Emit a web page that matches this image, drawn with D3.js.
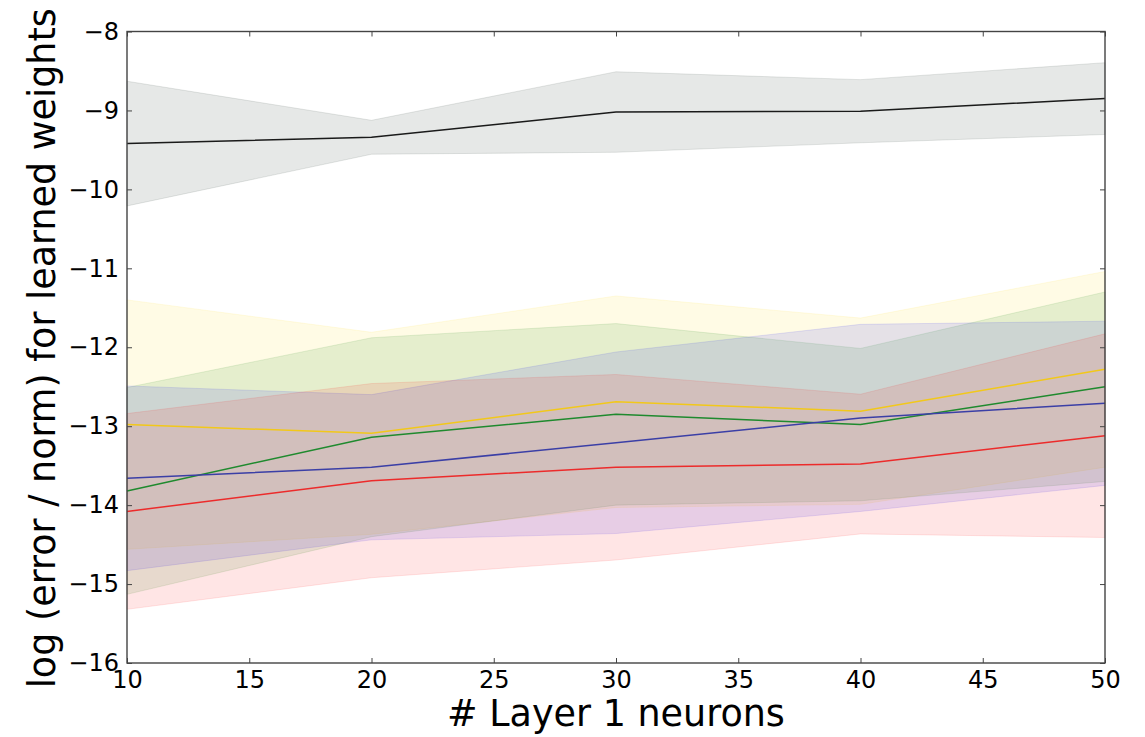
<!DOCTYPE html>
<html>
<head>
<meta charset="utf-8">
<script src="https://cdn.jsdelivr.net/npm/d3@7"></script>
<style>
  body { margin: 0; background: #fff; }
  svg { display: block; font-family: "DejaVu Sans", sans-serif; }
</style>
</head>
<body>
<svg id="chart" width="1145" height="737"></svg>
<script>
// layer-1 neuron counts
var neurons = [10, 20, 30, 40, 50];

// mean and spread (band half-width) of log(error / norm) per series
var blackMean  = [-9.42, -9.34, -9.02, -9.01, -8.85];
var blackStd   = [0.79, 0.215, 0.51, 0.40, 0.455];
var yellowMean = [-12.98, -13.09, -12.69, -12.81, -12.28];
var yellowStd  = [1.58, 1.28, 1.34, 1.18, 1.24];
var greenMean  = [-13.82, -13.14, -12.85, -12.98, -12.50];
var greenStd   = [1.31, 1.26, 1.15, 0.965, 1.20];
var blueMean   = [-13.66, -13.52, -13.21, -12.895, -12.71];
var blueStd    = [1.17, 0.92, 1.15, 1.185, 1.04];
var redMean    = [-14.08, -13.69, -13.52, -13.48, -13.12];
var redStd     = [1.24, 1.23, 1.175, 0.885, 1.29];

var xTicks = [10, 15, 20, 25, 30, 35, 40, 45, 50];
var yTicks = [-16, -15, -14, -13, -12, -11, -10, -9, -8];

var series = [
    {mean: blackMean,  std: blackStd,  fill: "#0a1a10", line: "#1a1a1a"},
    {mean: yellowMean, std: yellowStd, fill: "#ffd700", line: "#f2c81a"},
    {mean: greenMean,  std: greenStd,  fill: "#008000", line: "#1f8a2e"},
    {mean: blueMean,   std: blueStd,   fill: "#0000ff", line: "#3b3fa6"},
    {mean: redMean,    std: redStd,    fill: "#ff0000", line: "#ec2b2b"}
];

var margin = {left: 127, top: 31.5, right: 40, bottom: 74};
var width = 1145 - margin.left - margin.right;
var height = 737 - margin.top - margin.bottom;

var svg = d3.select("#chart");
var g = svg.append("g").attr("transform", "translate(" + margin.left + "," + margin.top + ")");

var x = d3.scaleLinear().domain([10, 50]).range([0, width]);
var y = d3.scaleLinear().domain([-16, -8]).range([height, 0]);

// bands first
var area = d3.area()
    .x(function (d) { return x(d.n); })
    .y0(function (d) { return y(d.m - d.s); })
    .y1(function (d) { return y(d.m + d.s); });

var line = d3.line()
    .x(function (d) { return x(d.n); })
    .y(function (d) { return y(d.m); });

series.forEach(function (s) {
    s.points = neurons.map(function (n, i) {
        return {n: n, m: s.mean[i], s: s.std[i]};
    });
    g.append("path")
        .datum(s.points)
        .attr("d", area)
        .attr("fill", s.fill)
        .attr("fill-opacity", 0.1)
        .attr("stroke", s.fill)
        .attr("stroke-opacity", 0.1)
        .attr("stroke-width", 1);
});

series.forEach(function (s) {
    g.append("path")
        .datum(s.points)
        .attr("d", line)
        .attr("fill", "none")
        .attr("stroke", s.line)
        .attr("stroke-width", 1.5);
});

// axes, matplotlib classic style: ticks inside on all four sides
var fmt = function (d) { return d < 0 ? "\u2212" + Math.abs(d) : String(d); };
var tickLen = 5;

var xBottom = g.append("g").attr("transform", "translate(0," + height + ")")
    .call(d3.axisBottom(x).tickValues(xTicks).tickSizeInner(-tickLen).tickSizeOuter(0).tickPadding(8).tickFormat(fmt));
var xTop = g.append("g")
    .call(d3.axisTop(x).tickValues(xTicks).tickSizeInner(-tickLen).tickSizeOuter(0).tickFormat(""));
var yLeft = g.append("g")
    .call(d3.axisLeft(y).tickValues(yTicks).tickSizeInner(-tickLen).tickSizeOuter(0).tickPadding(8).tickFormat(fmt));
var yRight = g.append("g").attr("transform", "translate(" + width + ",0)")
    .call(d3.axisRight(y).tickValues(yTicks).tickSizeInner(-tickLen).tickSizeOuter(0).tickFormat(""));

[xBottom, xTop, yLeft, yRight].forEach(function (a) {
    a.select(".domain").remove();
    a.selectAll(".tick line").attr("stroke", "#444").attr("stroke-width", 1);
    a.selectAll(".tick text")
        .attr("fill", "#000")
        .style("font-family", "DejaVu Sans")
        .style("font-size", "24px");
});

g.append("rect")
    .attr("width", width)
    .attr("height", height)
    .attr("fill", "none")
    .attr("stroke", "#444")
    .attr("stroke-width", 1.4);

svg.append("text")
    .attr("x", margin.left + width / 2)
    .attr("y", 726)
    .attr("text-anchor", "middle")
    .style("font-size", "36.5px")
    .text("# Layer 1 neurons");

svg.append("text")
    .attr("transform", "translate(55," + (margin.top + height / 2 + 1) + ") rotate(-90)")
    .attr("text-anchor", "middle")
    .style("font-size", "36.5px")
    .text("log (error / norm) for learned weights");
</script>
</body>
</html>
